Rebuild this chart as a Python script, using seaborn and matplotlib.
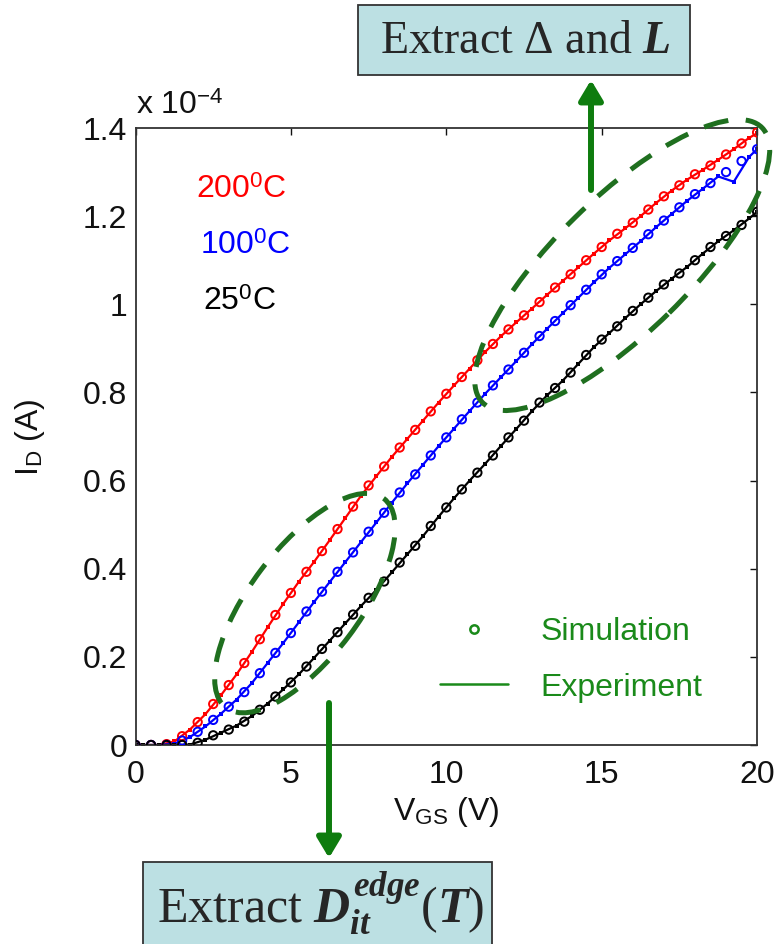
import numpy as np
import pandas as pd
import matplotlib
matplotlib.use("Agg")
import matplotlib.pyplot as plt
import seaborn as sns
from matplotlib.patches import Ellipse, Rectangle, FancyArrowPatch
from matplotlib.lines import Line2D
from matplotlib.transforms import ScaledTranslation

# ---------------- data (I_D in units of 1e-4 A) ----------------
temps = ["200", "100", "25"]
colors = ["#ff0000", "#0000ff", "#000000"]

vgs_sim = np.arange(0, 20.01, 0.5)
sim_200 = [0, 0, 0.002, 0.02, 0.052, 0.093, 0.136, 0.186, 0.24, 0.295, 0.345, 0.393,
           0.44, 0.49, 0.541, 0.589, 0.632, 0.675, 0.715, 0.757, 0.797, 0.835, 0.873,
           0.91, 0.943, 0.975, 1.005, 1.038, 1.068, 1.10, 1.13, 1.16, 1.185, 1.215,
           1.245, 1.27, 1.295, 1.315, 1.34, 1.365, 1.39]
sim_100 = [0, 0, 0, 0.01, 0.03, 0.057, 0.087, 0.12, 0.163, 0.209, 0.254, 0.303,
           0.348, 0.393, 0.437, 0.484, 0.527, 0.573, 0.614, 0.657, 0.698, 0.739, 0.777,
           0.816, 0.852, 0.89, 0.928, 0.962, 0.998, 1.033, 1.068, 1.098, 1.128, 1.159,
           1.19, 1.22, 1.25, 1.275, 1.30, 1.325, 1.352]
sim_25 = [0, 0, 0, 0, 0.005, 0.022, 0.035, 0.053, 0.08, 0.11, 0.142, 0.178,
          0.218, 0.256, 0.296, 0.334, 0.371, 0.414, 0.452, 0.497, 0.539, 0.58, 0.618,
          0.657, 0.698, 0.736, 0.777, 0.81, 0.845, 0.885, 0.92, 0.95, 0.985, 1.015,
          1.045, 1.07, 1.10, 1.13, 1.155, 1.18, 1.21]

vgs_exp = np.concatenate([[0, 0.25], np.arange(0.75, 20, 0.5), [20]])
exp_200 = [0, 0, 0, 0.008, 0.035, 0.07, 0.113, 0.16, 0.212, 0.267, 0.32, 0.37,
           0.416, 0.465, 0.515, 0.565, 0.61, 0.654, 0.695, 0.736, 0.777, 0.816,
           0.854, 0.892, 0.927, 0.959, 0.99, 1.022, 1.053, 1.084, 1.115, 1.145,
           1.172, 1.2, 1.23, 1.258, 1.283, 1.305, 1.328, 1.352, 1.378, 1.388]
exp_100 = [0, 0, 0, 0.003, 0.018, 0.042, 0.071, 0.103, 0.141, 0.186, 0.231, 0.278,
           0.325, 0.37, 0.415, 0.46, 0.505, 0.55, 0.594, 0.636, 0.678, 0.718,
           0.758, 0.797, 0.834, 0.871, 0.909, 0.945, 0.98, 1.015, 1.05, 1.083,
           1.113, 1.143, 1.175, 1.205, 1.235, 1.262, 1.29, 1.278, 1.335, 1.352]
exp_25 = [0, 0, 0, 0, 0.001, 0.012, 0.028, 0.044, 0.066, 0.094, 0.126, 0.16,
          0.198, 0.237, 0.276, 0.315, 0.352, 0.392, 0.433, 0.474, 0.518, 0.56,
          0.6, 0.638, 0.678, 0.717, 0.757, 0.794, 0.827, 0.865, 0.903, 0.935,
          0.968, 1.0, 1.03, 1.058, 1.085, 1.115, 1.143, 1.168, 1.195, 1.21]

x_ticks = [0, 5, 10, 15, 20]
y_ticks = [0, 0.2, 0.4, 0.6, 0.8, 1.0, 1.2, 1.4]
y_ticklabels = ["0", "0.2", "0.4", "0.6", "0.8", "1", "1.2", "1.4"]

sim_df = pd.DataFrame({
    "V": np.concatenate([vgs_sim] * 3),
    "I": np.concatenate([sim_200, sim_100, sim_25]),
    "T": np.repeat(temps, len(vgs_sim)),
})
exp_df = pd.DataFrame({
    "V": np.concatenate([vgs_exp] * 3),
    "I": np.concatenate([exp_200, exp_100, exp_25]),
    "T": np.repeat(temps, len(vgs_exp)),
})

# ---------------- style ----------------
sns.set_theme(style="white")
plt.rcParams["font.family"] = ["Liberation Sans", "DejaVu Sans"]
plt.rcParams["mathtext.fontset"] = "custom"
plt.rcParams["mathtext.rm"] = "Liberation Sans"
plt.rcParams["mathtext.it"] = "Liberation Serif:italic:bold"
plt.rcParams["mathtext.bf"] = "Liberation Serif"

GREEN_E = "#1f6f1f"
GREEN_A = "#0e7c0e"
GREEN_T = "#1a8a1a"
FS = 23

fig = plt.figure(figsize=(7.77, 9.44), dpi=100)
ax = fig.add_axes([0.1744, 0.2108, 0.8, 0.6536])

palette = dict(zip(temps, colors))
sns.lineplot(data=exp_df, x="V", y="I", hue="T", palette=palette, ax=ax,
             estimator=None, sort=False, legend=False, linewidth=1.6,
             marker="s", markersize=3.5, markeredgewidth=0)
for t, c in zip(temps, colors):
    sub = sim_df[sim_df["T"] == t]
    sns.scatterplot(x=sub["V"], y=sub["I"], ax=ax, marker="o", s=36,
                    facecolor="none", edgecolor=c, linewidth=1.4, legend=False,
                    zorder=3)

ax.set_xlim(0, 20)
ax.set_ylim(0, 1.4)
ax.set_xticks(x_ticks)
ax.set_yticks(y_ticks)
ax.set_yticklabels(y_ticklabels)
ax.set_xlabel("")
ax.set_ylabel("")
ax.tick_params(direction="in", length=5, width=1, top=True, right=True,
               labelsize=FS, colors="#111111", pad=6)
ax.tick_params(axis="x", pad=11)
for sp in ax.spines.values():
    sp.set_color("#333333")
    sp.set_linewidth(1.3)

# labels
fig.text(446 / 777, 1 - 812 / 944, r"V$_\mathrm{GS}$ (V)", ha="center", va="center",
         fontsize=FS, color="#111111")
fig.text(30 / 777, 1 - 437 / 944, r"I$_\mathrm{D}$ (A)", ha="center", va="center",
         rotation=90, fontsize=FS, color="#111111")
ax.text(0.0, 1.012, r"x 10$^{\mathrm{-4}}$", transform=ax.transAxes, ha="left",
        va="bottom", fontsize=FS, color="#111111")

# temperature labels
for t, c, xa, ya in zip(temps, colors, [0.097, 0.103, 0.109], [0.90, 0.809, 0.718]):
    ax.text(xa, ya, t + r"$^{\mathrm{0}}$C", transform=ax.transAxes, color=c,
            fontsize=FS, ha="left", va="center")

# legend
handles = [Line2D([], [], marker="o", ls="none", mfc="none", mec=GREEN_T,
                  mew=1.8, ms=6),
           Line2D([], [], color=GREEN_T, lw=1.8)]
leg = ax.legend(handles, ["Simulation", "Experiment"], loc="center left",
                bbox_to_anchor=(0.49, 0.138), frameon=False, fontsize=FS,
                labelcolor=GREEN_T, handlelength=2.13, handletextpad=1.0,
                labelspacing=0.8, borderpad=0, borderaxespad=0)

# dashed ellipses (size in inches, centred in data coords)
def dashed_ellipse(cx, cy, w_in, h_in, ang):
    e = Ellipse((0, 0), w_in, h_in, angle=ang, fill=False, edgecolor=GREEN_E,
                linewidth=3.6, linestyle=(0, (5, 3.5)), clip_on=False, zorder=6,
                transform=fig.dpi_scale_trans + ScaledTranslation(cx, cy, ax.transData))
    ax.add_patch(e)

dashed_ellipse(5.45, 0.322, 2.62, 1.10, 53)
dashed_ellipse(15.66, 1.089, 3.92, 1.34, 44.5)

# arrows (figure pixels)
def arrow(x0, y0, x1, y1):
    a = FancyArrowPatch((x0 / 777, 1 - y0 / 944), (x1 / 777, 1 - y1 / 944),
                        transform=fig.transFigure,
                        arrowstyle="-|>,head_length=1.0,head_width=0.6",
                        mutation_scale=12, lw=4.3, color=GREEN_A, zorder=7,
                        shrinkA=0, shrinkB=0)
    fig.add_artist(a)

arrow(591, 190, 591, 80)
arrow(329, 703, 329, 858)

# boxes
BOXC = "#bce0e3"
fig.add_artist(Rectangle((358 / 777, 1 - 75 / 944), 332 / 777, 70 / 944,
                         transform=fig.transFigure, facecolor=BOXC,
                         edgecolor="#333333", lw=1.3, zorder=8))
fig.text(525 / 777, 1 - 42 / 944, r"Extract Δ and $L$", ha="center", va="center",
         fontsize=33, family=["Liberation Serif", "DejaVu Serif"], zorder=9)
fig.add_artist(Rectangle((143 / 777, 1 - 960 / 944), 349 / 777, 98 / 944,
                         transform=fig.transFigure, facecolor=BOXC,
                         edgecolor="#333333", lw=1.3, zorder=8))
fig.text(321 / 777, 1 - 903 / 944, r"Extract $D_{it}^{edge}\mathbf{(}T\mathbf{)}$",
         ha="center", va="center", fontsize=36,
         family=["Liberation Serif", "DejaVu Serif"], zorder=9)

fig.savefig("out.png", dpi=100)
